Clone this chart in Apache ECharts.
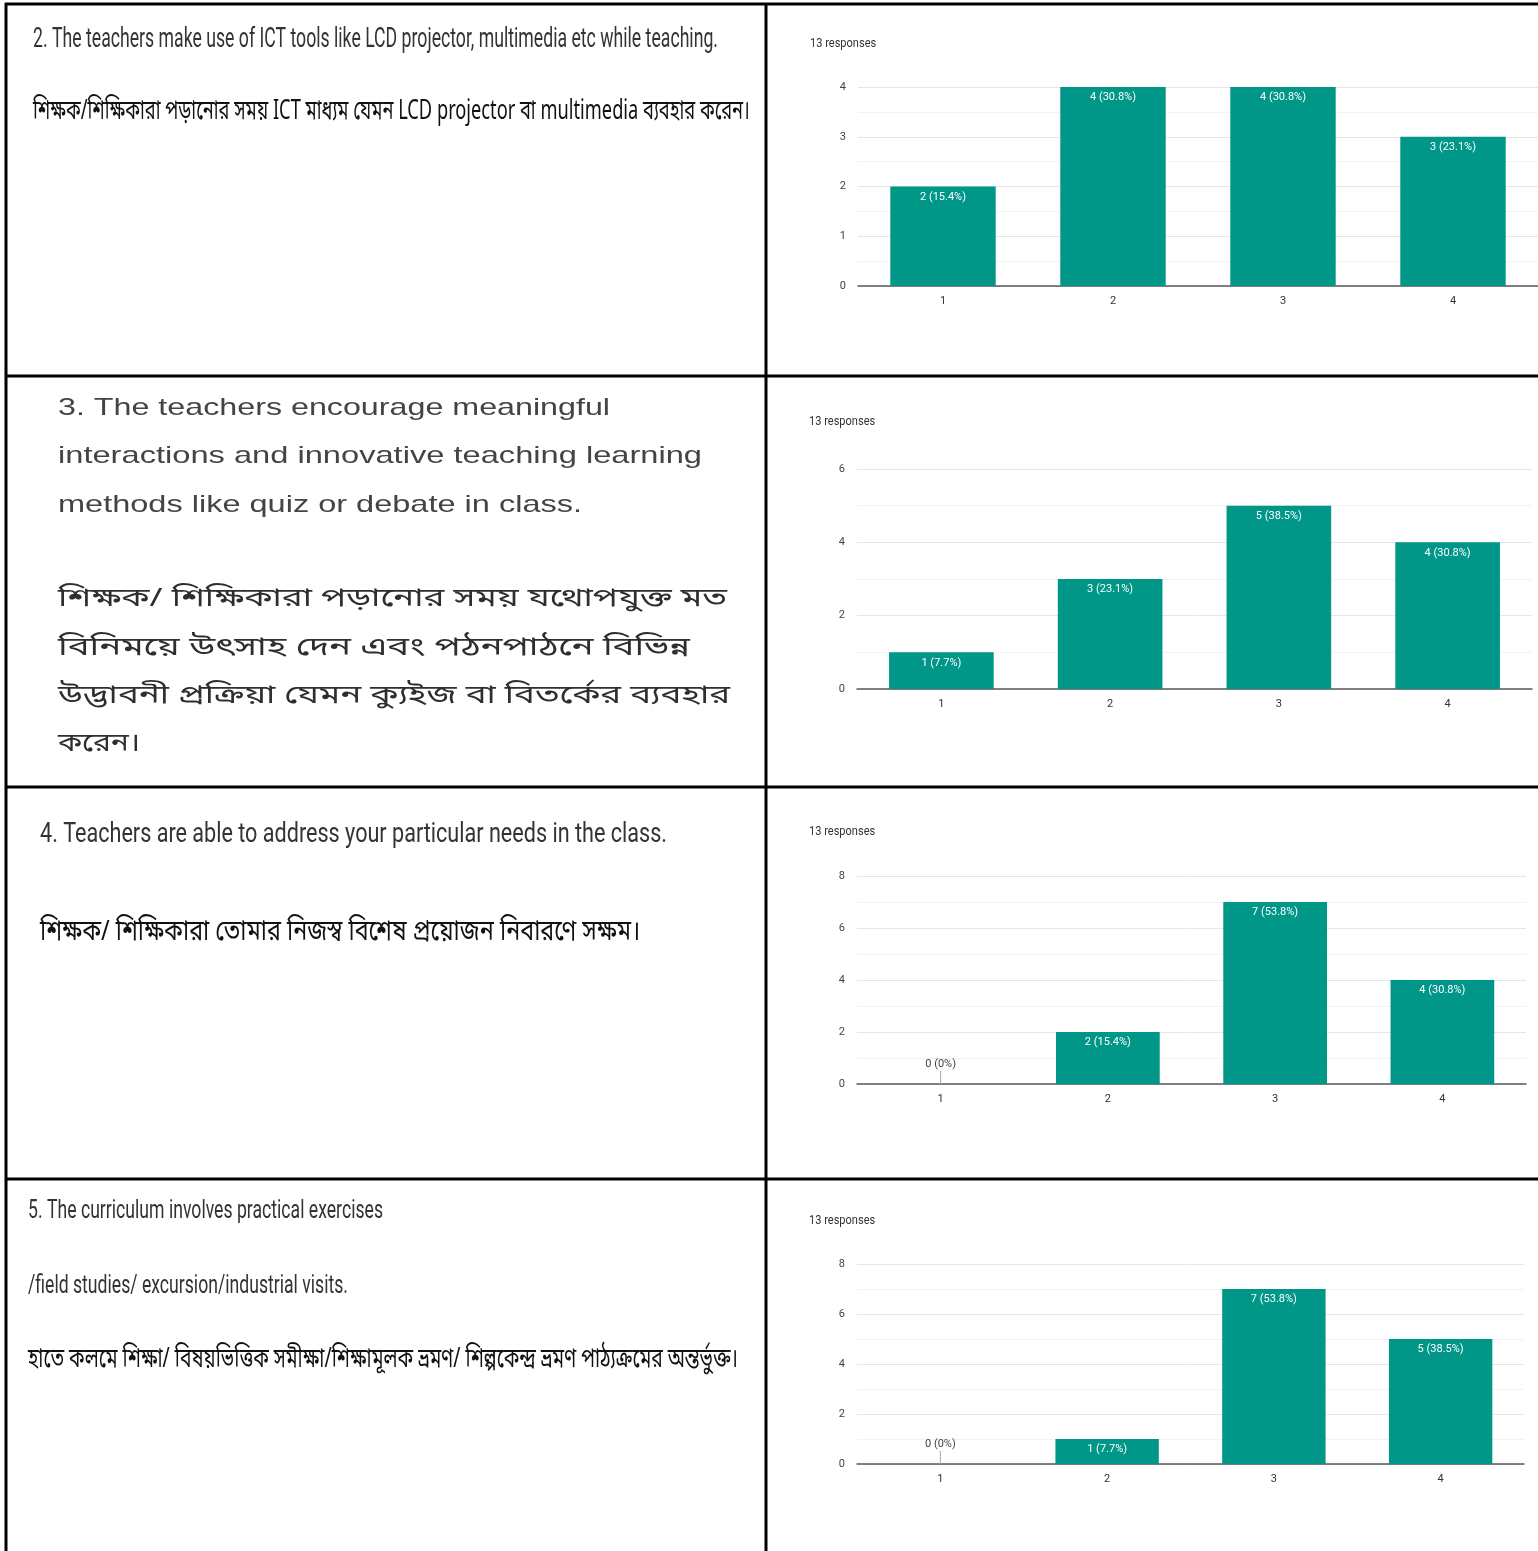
<!DOCTYPE html>
<html>
<head>
<meta charset="utf-8">
<script src="https://cdn.jsdelivr.net/npm/echarts@6/dist/echarts.min.js"></script>
<style>
html,body{margin:0;padding:0;background:#fff;}
#chart{width:1538px;height:1551px;}
</style>
</head>
<body>
<div id="chart"></div>
<script>
// ---------- DATA ----------
const categories = ['1', '2', '3', '4'];
const q2Values = [2, 4, 4, 3];
const q2Pct = ['15.4%', '30.8%', '30.8%', '23.1%'];
const q3Values = [1, 3, 5, 4];
const q3Pct = ['7.7%', '23.1%', '38.5%', '30.8%'];
const q4Values = [0, 2, 7, 4];
const q4Pct = ['0%', '15.4%', '53.8%', '30.8%'];
const q5Values = [0, 1, 7, 5];
const q5Pct = ['0%', '7.7%', '53.8%', '38.5%'];
const yMaxes = [4, 6, 8, 8];
const yIntervals = [1, 2, 2, 2];
const responseText = '13 responses';

const q2Lines = [
  '2. The teachers make use of ICT tools like LCD projector, multimedia etc while teaching.',
  'শিক্ষক/শিক্ষিকারা পড়ানোর সময় ICT মাধ্যম যেমন LCD projector বা multimedia ব্যবহার করেন।'
];
const q3Lines = [
  '3. The teachers encourage meaningful',
  'interactions and innovative teaching learning',
  'methods like quiz or debate in class.',
  'শিক্ষক/ শিক্ষিকারা পড়ানোর সময় যথোপযুক্ত মত',
  'বিনিময়ে উৎসাহ দেন এবং পঠনপাঠনে বিভিন্ন',
  'উদ্ভাবনী প্রক্রিয়া যেমন ক্যুইজ বা বিতর্কের ব্যবহার',
  'করেন।'
];
const q4Lines = [
  '4. Teachers are able to address your particular needs in the class.',
  'শিক্ষক/ শিক্ষিকারা তোমার নিজস্ব বিশেষ প্রয়োজন নিবারণে সক্ষম।'
];
const q5Lines = [
  '5. The curriculum involves practical exercises',
  '/field studies/ excursion/industrial visits.',
  'হাতে কলমে শিক্ষা/ বিষয়ভিত্তিক সমীক্ষা/শিক্ষামূলক ভ্রমণ/ শিল্পকেন্দ্র ভ্রমণ পাঠ্যক্রমের অন্তর্ভুক্ত।'
];

const allValues = [q2Values, q3Values, q4Values, q5Values];
const allPct = [q2Pct, q3Pct, q4Pct, q5Pct];

// ---------- LAYOUT / STYLE ----------
const BAR = '#009688';
const grids = [
  {left: 858, top: 87, width: 680, height: 199},
  {left: 857, top: 469, width: 675, height: 220},
  {left: 857, top: 876, width: 669, height: 208},
  {left: 857, top: 1264, width: 667, height: 200}
];
const respPos = [[810, 44], [809, 422], [809, 832], [809, 1221]];

const EN = 'Roboto, "Liberation Sans", sans-serif';
const BN = '"Noto Sans Bengali", "Noto Sans", sans-serif';
const AR = '"Liberation Sans", Arial, sans-serif';
// text layout: [text, x, yCenter, targetWidth, fontSize, family, color]
const textLayout = [
  [q2Lines[0], 33, 40, 685, 27, EN, '#333'],
  [q2Lines[1], 33, 114, 717, 27, BN, '#111'],
  [q3Lines[0], 58, 408, 552, 24, AR, '#444'],
  [q3Lines[1], 58, 456, 644, 24, AR, '#444'],
  [q3Lines[2], 58, 505, 524, 24, AR, '#444'],
  [q3Lines[3], 58, 601, 669, 26, BN, '#2e2e2e'],
  [q3Lines[4], 58, 650, 632, 26, BN, '#2e2e2e'],
  [q3Lines[5], 58, 698, 672, 26, BN, '#2e2e2e'],
  [q3Lines[6], 58, 746, 82, 26, BN, '#2e2e2e'],
  [q4Lines[0], 40, 835, 627, 28, EN, '#333'],
  [q4Lines[1], 40, 935, 600, 28, BN, '#111'],
  [q5Lines[0], 28, 1212, 355, 25, EN, '#333'],
  [q5Lines[1], 28, 1287, 320, 25, EN, '#333'],
  [q5Lines[2], 28, 1362, 710, 27, BN, '#111']
];

const ctx = document.createElement('canvas').getContext('2d');
function measure(text, font) { ctx.font = font; return ctx.measureText(text).width; }

const graphics = [];
// table borders
const B = {stroke: '#000', lineWidth: 3};
[[5, 4, 1538, 4], [6, 3, 6, 1551], [766, 3, 766, 1551],
 [5, 376, 1538, 376], [5, 787, 1538, 787], [5, 1179, 1538, 1179]].forEach(s => {
  graphics.push({type: 'line', shape: {x1: s[0], y1: s[1], x2: s[2], y2: s[3]}, style: B, z: 100});
});
textLayout.forEach(t => {
  const font = t[4] + 'px ' + t[5];
  const w = measure(t[0], font);
  graphics.push({
    type: 'text', x: t[1], y: t[2], scaleX: w > 0 ? t[3] / w : 1,
    style: {text: t[0], font: font, fill: t[6], align: 'left', verticalAlign: 'middle'}
  });
});
respPos.forEach(p => {
  graphics.push({type: 'text', x: p[0], y: p[1], scaleX: 0.92,
    style: {text: responseText, font: '12px ' + EN, fill: '#333', verticalAlign: 'middle'}});
});

const option = {
  backgroundColor: '#fff',
  animation: false,
  graphic: graphics,
  grid: grids.map(g => Object.assign({containLabel: false}, g)),
  xAxis: grids.map((g, i) => ({
    type: 'category', gridIndex: i, data: categories,
    axisTick: {show: false},
    axisLine: {lineStyle: {color: '#5a5a5a', width: 1.5}},
    axisLabel: {color: '#333', fontSize: 11, margin: 10, fontFamily: EN}
  })),
  yAxis: grids.map((g, i) => ({
    type: 'value', gridIndex: i, min: 0, max: yMaxes[i], interval: yIntervals[i],
    axisLine: {show: false}, axisTick: {show: false},
    axisLabel: {color: '#444', fontSize: 11, margin: 12, fontFamily: EN},
    splitLine: {lineStyle: {color: '#e6e6e6'}},
    minorTick: {show: false, splitNumber: 2},
    minorSplitLine: {show: true, lineStyle: {color: '#f2f2f2'}}
  })),
  series: allValues.map((vals, i) => ({
    type: 'bar', xAxisIndex: i, yAxisIndex: i, barWidth: '62%',
    itemStyle: {color: BAR},
    data: vals.map((v, j) => {
      const item = {value: v};
      if (v === 0) {
        item.label = {
          position: 'top', distance: 0,
          formatter: p => '{t|' + p.value + ' (' + allPct[i][p.dataIndex] + ')}\n{l|}',
          rich: {
            t: {color: '#444', fontSize: 11, fontFamily: EN, lineHeight: 14},
            l: {width: 1, height: 13, backgroundColor: '#aaa'}
          }
        };
      }
      return item;
    }),
    label: {
      show: true, position: 'insideTop', distance: 5, color: '#fff', fontSize: 11, fontFamily: EN,
      formatter: p => p.value + ' (' + allPct[i][p.dataIndex] + ')'
    }
  }))
};

const chart = echarts.init(document.getElementById('chart'), null, {renderer: 'canvas'});
chart.setOption(option);
</script>
</body>
</html>
